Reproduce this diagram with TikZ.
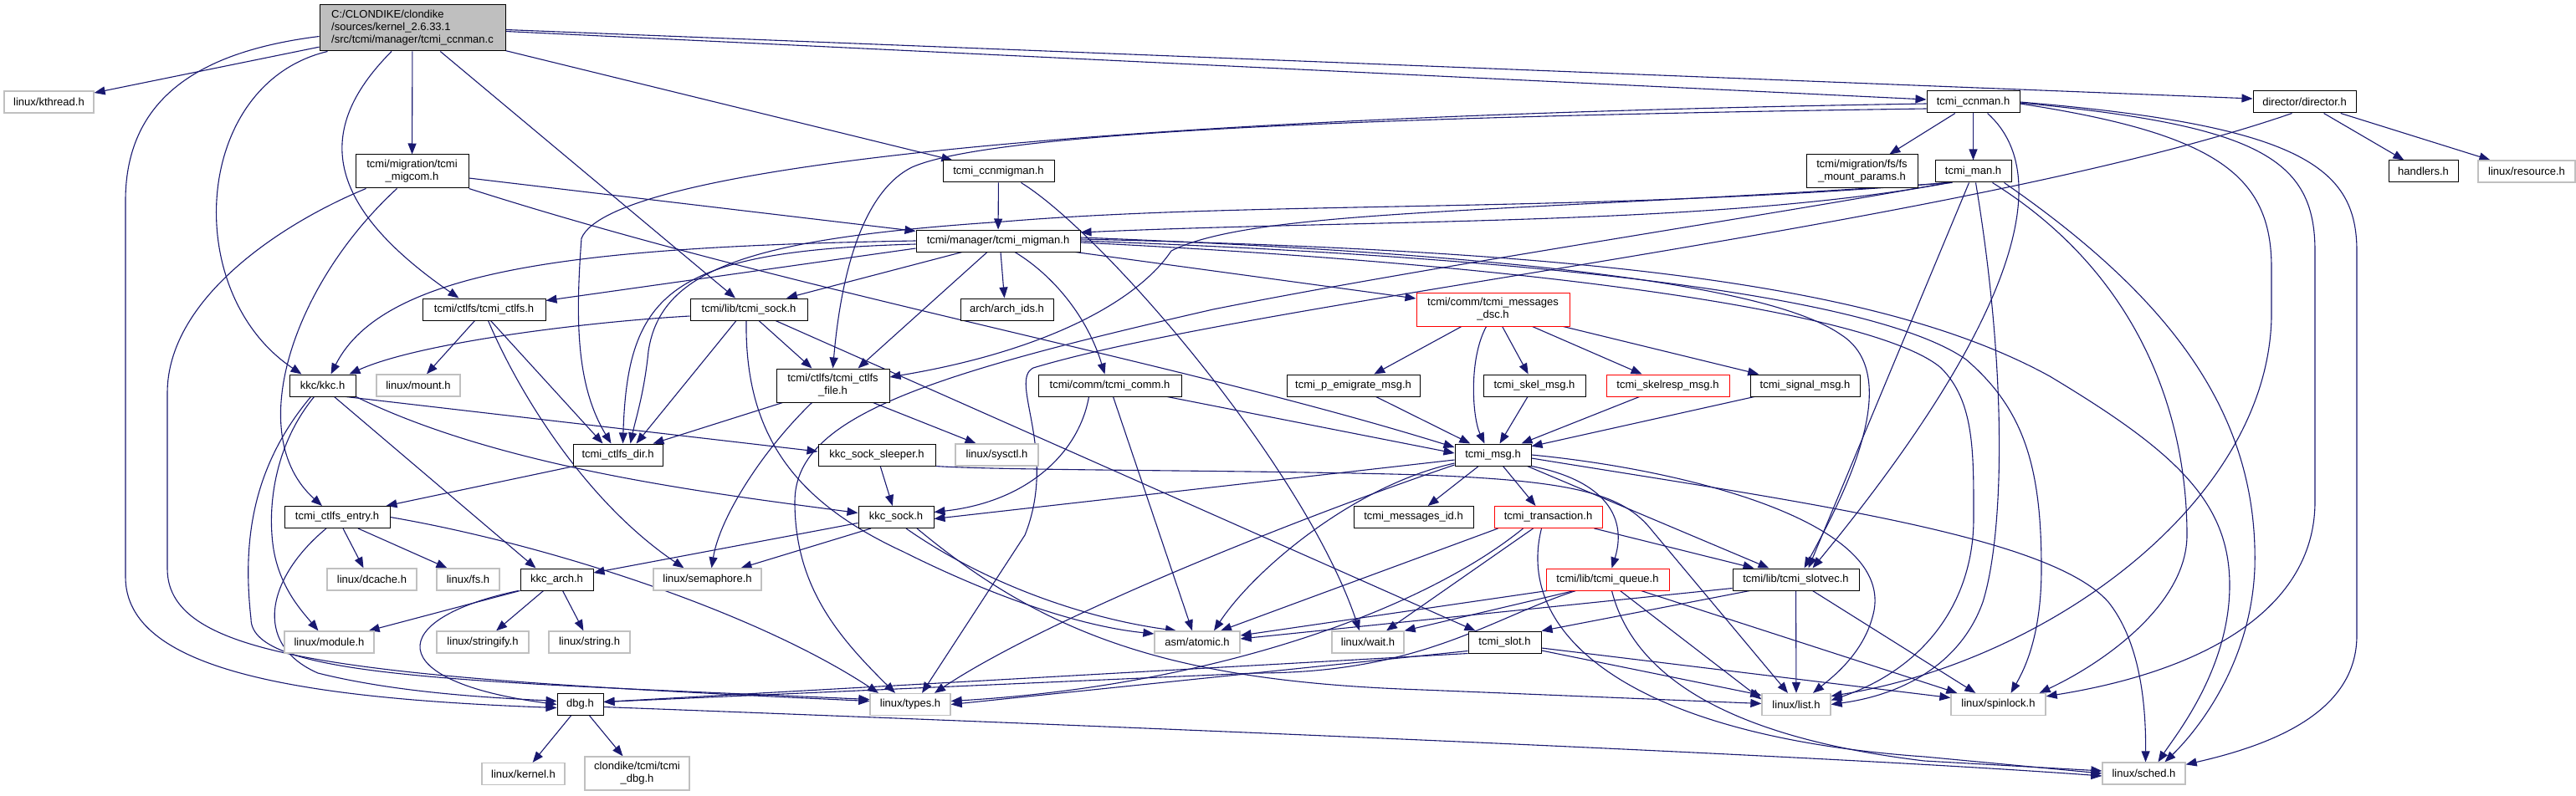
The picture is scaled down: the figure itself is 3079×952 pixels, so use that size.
\documentclass[tikz,border=0pt]{standalone}
\usepackage{fontspec}
\setmainfont{Liberation Sans}
\usetikzlibrary{arrows.meta}
\definecolor{edgeblue}{HTML}{191970}
\definecolor{lightgr}{HTML}{C0C0C0}
\definecolor{mainfill}{HTML}{BFBFBF}
\pgfdeclarelayer{edgelayer}
\pgfsetlayers{edgelayer,main}
\tikzset{
  nodebase/.style={draw=black, line width=1pt, fill=white, inner sep=0pt, minimum height=26pt, font=\fontsize{13}{15}\selectfont, text=black, align=center},
  nb/.style={nodebase},
  ng/.style={nodebase, draw=lightgr, line width=1.3pt},
  nr/.style={nodebase, draw=red},
  edge/.style={draw=edgeblue, line width=1.1pt, -{Triangle[length=13pt,width=10pt]}},
}
\begin{document}
\begin{tikzpicture}[x=1pt,y=-1pt]
\useasboundingbox (0,0) rectangle (3079,952);
% nodes
\node[nb, fill=mainfill, align=left, minimum width=222pt, minimum height=55pt] (main) at (493,33.5) {C:/CLONDIKE/clondike\\/sources/kernel\_2.6.33.1\\/src/tcmi/manager/tcmi\_ccnman.c};
\node[ng, minimum width=107pt] (kthread) at (58.5,122) {linux/kthread.h};
\node[nb, minimum width=135pt, minimum height=40pt] (migcom) at (492.5,205) {tcmi/migration/tcmi\\\_migcom.h};
\node[nb, minimum width=133pt] (ccnmigman) at (1193.5,205) {tcmi\_ccnmigman.h};
\node[nb, minimum width=196pt] (migman) at (1193,288) {tcmi/manager/tcmi\_migman.h};
\node[nb, minimum width=133pt, minimum height=40pt] (fsmp) at (2225.5,205) {tcmi/migration/fs/fs\\\_mount\_params.h};
\node[nb, minimum width=111pt] (ccnmanh) at (2358.5,122) {tcmi\_ccnman.h};
\node[nb, minimum width=123pt] (director) at (2754.5,122) {director/director.h};
\node[nb, minimum width=91pt] (tcmiman) at (2358.5,205) {tcmi\_man.h};
\node[nb, minimum width=83pt] (handlers) at (2896.5,205) {handlers.h};
\node[ng, minimum width=116pt] (resource) at (3020,205) {linux/resource.h};
\node[nb, minimum width=147pt] (ctlfs) at (578.5,370) {tcmi/ctlfs/tcmi\_ctlfs.h};
\node[nb, minimum width=140pt] (sock) at (895,370) {tcmi/lib/tcmi\_sock.h};
\node[nb, minimum width=111pt] (archids) at (1203.5,370) {arch/arch\_ids.h};
\node[nr, minimum width=183pt, minimum height=40pt] (msgdsc) at (1784.5,370) {tcmi/comm/tcmi\_messages\\\_dsc.h};
\node[nb, minimum width=79pt] (kkc) at (385.5,461) {kkc/kkc.h};
\node[ng, minimum width=100pt] (mount) at (500,461) {linux/mount.h};
\node[nb, minimum width=135pt, minimum height=40pt] (ctlfsfile) at (995.5,461) {tcmi/ctlfs/tcmi\_ctlfs\\\_file.h};
\node[nb, minimum width=171pt] (comm) at (1326.5,461) {tcmi/comm/tcmi\_comm.h};
\node[nb, minimum width=159pt] (pemig) at (1617.5,461) {tcmi\_p\_emigrate\_msg.h};
\node[nb, minimum width=122pt] (skel) at (1834,461) {tcmi\_skel\_msg.h};
\node[nr, minimum width=147pt] (skelresp) at (1993.5,461) {tcmi\_skelresp\_msg.h};
\node[nb, minimum width=131pt] (signal) at (2157.5,461) {tcmi\_signal\_msg.h};
\node[nb, minimum width=107pt] (dir) at (738.5,544) {tcmi\_ctlfs\_dir.h};
\node[nb, minimum width=140pt] (sleeper) at (1048,544) {kkc\_sock\_sleeper.h};
\node[ng, minimum width=99pt] (sysctl) at (1191.5,544) {linux/sysctl.h};
\node[nb, minimum width=91pt] (msg) at (1784.5,544) {tcmi\_msg.h};
\node[nb, minimum width=126pt] (entry) at (403,618.5) {tcmi\_ctlfs\_entry.h};
\node[nb, minimum width=90pt] (kkcsock) at (1071,618.5) {kkc\_sock.h};
\node[nb, minimum width=143pt] (msgid) at (1689.5,618.5) {tcmi\_messages\_id.h};
\node[nr, minimum width=129pt] (trans) at (1850.5,618.5) {tcmi\_transaction.h};
\node[ng, minimum width=107pt] (dcache) at (444.5,693) {linux/dcache.h};
\node[ng, minimum width=75pt] (fs) at (559.5,693) {linux/fs.h};
\node[nb, minimum width=87pt] (kkcarch) at (665.5,693) {kkc\_arch.h};
\node[ng, minimum width=129pt] (semaphore) at (845.5,693) {linux/semaphore.h};
\node[nr, minimum width=147pt] (queue) at (1921.5,693) {tcmi/lib/tcmi\_queue.h};
\node[nb, minimum width=151pt] (slotvec) at (2146.5,693) {tcmi/lib/tcmi\_slotvec.h};
\node[ng, minimum width=107pt] (module) at (393.5,768) {linux/module.h};
\node[ng, minimum width=110pt] (stringify) at (577,768) {linux/stringify.h};
\node[ng, minimum width=97pt] (string) at (704.5,768) {linux/string.h};
\node[ng, minimum width=102pt] (atomic) at (1431,768) {asm/atomic.h};
\node[ng, minimum width=86pt] (wait) at (1635,768) {linux/wait.h};
\node[nb, minimum width=87pt] (slot) at (1798.5,768) {tcmi\_slot.h};
\node[nb, minimum width=55pt] (dbg) at (693.5,842.5) {dbg.h};
\node[ng, minimum width=96pt] (types) at (1088,842.5) {linux/types.h};
\node[ng, minimum width=82pt] (list) at (2147,842.5) {linux/list.h};
\node[ng, minimum width=113pt] (spinlock) at (2388.5,842.5) {linux/spinlock.h};
\node[ng, minimum width=99pt] (kernel) at (625.5,925.5) {linux/kernel.h};
\node[ng, minimum width=125pt, minimum height=40pt] (tcmidbg) at (761.5,925) {clondike/tcmi/tcmi\\\_dbg.h};
\node[ng, minimum width=99pt] (sched) at (2562.5,925) {linux/sched.h};

\begin{pgfonlayer}{edgelayer}
% main
\draw[edge] (main) -- (kthread);
\draw[edge] (main) -- (migcom);
\draw[edge] (main) -- (ccnmigman);
\draw[edge] ([yshift=-4pt]main.east) -- ([yshift=3pt]ccnmanh.west);
\draw[edge] ([yshift=-2pt]main.east) -- ([yshift=4pt]director.west);
\draw[edge] ([xshift=10pt]main.south west) .. controls (230,100) and (215,350) .. ([xshift=-25pt]kkc.north);
\draw[edge] ([xshift=-25pt]main.south) .. controls (380,150) and (380,240) .. ([xshift=-30pt]ctlfs.north);
\draw[edge] (main) -- (sock);
\draw[edge] ([yshift=-10pt]main.west) .. controls (250,60) and (150,110) .. (150,240) -- (150,690) .. controls (150,800) and (350,835) .. ([yshift=-4pt]dbg.west);
% migcom
\draw[edge] (migcom) -- (migman);
\draw[edge] ([xshift=-18pt]migcom.south) .. controls (350,340) and (290,520) .. ([xshift=-18pt]entry.north);
\draw[edge] (migcom.south east) .. controls (950,350) and (1400,430) .. ([yshift=9pt]msg.west);
\draw[edge] ([xshift=-55pt]migcom.south) .. controls (330,270) and (200,360) .. (200,470) -- (200,680) .. controls (200,790) and (420,810) .. ([yshift=4pt]types.west);
% ccnmigman
\draw[edge] (ccnmigman) -- (migman);
\draw[edge] ([xshift=27pt]ccnmigman.south) .. controls (1320,280) and (1560,560) .. ([xshift=-10pt]wait.north);
% tcmi_ccnman.h
\draw[edge] (ccnmanh) -- (fsmp);
\draw[edge] (ccnmanh) -- (tcmiman);
\draw[edge] ([yshift=-2pt]ccnmanh.west) .. controls (1300,140) and (730,200) .. (695,285) .. controls (688,380) and (688,460) .. ([xshift=-8pt]dir.north);
\draw[edge] ([yshift=-8pt]ccnmanh.west) .. controls (1600,140) and (1180,160) .. (1090,200) .. controls (1030,230) and (1005,330) .. (ctlfsfile.north);
\draw[edge] ([xshift=17pt]ccnmanh.south) .. controls (2470,220) and (2380,420) .. ([xshift=20pt]slotvec.north);
\draw[edge] ([yshift=-2pt]ccnmanh.east) .. controls (2650,160) and (2715,210) .. (2715,320) -- (2715,380) .. controls (2710,600) and (2450,790) .. ([yshift=10pt]list.east);
\draw[edge] ([yshift=-1pt]ccnmanh.east) .. controls (2700,150) and (2767,190) .. (2767,300) -- (2767,600) .. controls (2767,720) and (2650,800) .. ([yshift=-4pt]spinlock.north east);
\draw[edge] (ccnmanh.east) .. controls (2750,150) and (2817,200) .. (2817,300) -- (2817,760) .. controls (2817,850) and (2720,890) .. ([yshift=-3pt]sched.north east);
% director
\draw[edge] (director) -- (handlers);
\draw[edge] (director) -- (resource);
\draw[edge] ([xshift=-15pt]director.south) .. controls (2350,270) and (1500,360) .. (1235,440) .. controls (1205,455) and (1265,540) .. (1225,640) -- ([xshift=14pt]types.north);
% tcmi_man.h
\draw[edge] ([xshift=-28pt]tcmiman.south) .. controls (2050,270) and (1650,262) .. ([yshift=10pt]migman.east);
\draw[edge] ([xshift=-25pt]tcmiman.south) .. controls (1800,255) and (1500,250) .. (1400,300) .. controls (1360,360) and (1250,420) .. ([yshift=10pt]ctlfsfile.east);
\draw[edge] ([xshift=-30pt]tcmiman.south) .. controls (2100,260) and (1700,320) .. (1450,370) .. controls (1100,450) and (950,500) .. (950,600) .. controls (950,700) and (1000,760) .. ([xshift=-18pt]types.north);
\draw[edge] ([xshift=-5pt]tcmiman.south) -- ([xshift=15pt]slotvec.north);
\draw[edge] ([xshift=3pt]tcmiman.south) .. controls (2400,450) and (2395,640) .. (2370,720) .. controls (2345,790) and (2280,830) .. (list.east);
\draw[edge] ([xshift=23pt]tcmiman.south) .. controls (2560,330) and (2614,500) .. (2614,640) .. controls (2614,720) and (2520,790) .. ([xshift=-8pt]spinlock.north east);
\draw[edge] ([xshift=37pt]tcmiman.south) .. controls (2600,360) and (2700,500) .. (2695,680) .. controls (2690,800) and (2620,880) .. ([xshift=25pt]sched.north);
\draw[edge] ([xshift=-32pt]tcmiman.south) .. controls (1900,255) and (1500,240) .. (1200,265) .. controls (900,285) and (790,320) .. (775,420) .. controls (770,470) and (760,500) .. ([xshift=15pt]dir.north);
% tcmi_migman.h
\draw[edge] ([yshift=-9pt]migman.west) -- ([yshift=-3pt]ctlfs.north east);
\draw[edge] (migman.west) .. controls (700,295) and (460,320) .. ([xshift=10pt]kkc.north);
\draw[edge] ([yshift=-4pt]migman.west) .. controls (800,300) and (750,350) .. ([xshift=6pt]dir.north);
\draw[edge] ([xshift=-43pt]migman.south) -- ([xshift=45pt]sock.north);
\draw[edge] ([xshift=-13pt]migman.south) -- ([xshift=30pt]ctlfsfile.north);
\draw[edge] ([xshift=3pt]migman.south) -- ([xshift=-3pt]archids.north);
\draw[edge] ([xshift=20pt]migman.south) .. controls (1260,330) and (1300,380) .. ([xshift=-6pt]comm.north);
\draw[edge] ([xshift=-6pt]migman.south east) -- ([yshift=13pt]msgdsc.west);
\draw[edge] ([yshift=4pt]migman.east) .. controls (1700,300) and (2100,330) .. (2200,400) .. controls (2280,450) and (2200,600) .. ([xshift=10pt]slotvec.north);
\draw[edge] ([yshift=-2pt]migman.east) .. controls (1900,320) and (2250,380) .. (2320,440) .. controls (2360,480) and (2359,540) .. (2359,620) .. controls (2359,720) and (2300,800) .. ([yshift=5pt]list.east);
\draw[edge] (migman.east) .. controls (1900,310) and (2250,360) .. (2350,430) .. controls (2420,490) and (2440,560) .. (2440,680) .. controls (2440,760) and (2420,800) .. ([xshift=15pt]spinlock.north);
\draw[edge] ([yshift=2pt]migman.east) .. controls (1900,300) and (2250,340) .. (2450,450) .. controls (2600,540) and (2665,600) .. (2665,700) .. controls (2665,800) and (2600,880) .. ([xshift=17pt]sched.north);
% messages_dsc
\draw[edge] (msgdsc) -- (pemig);
\draw[edge] ([xshift=-8pt]msgdsc.south) .. controls (1755,430) and (1760,500) .. ([xshift=-10pt]msg.north);
\draw[edge] (msgdsc) -- (skel);
\draw[edge] (msgdsc) -- (skelresp);
\draw[edge] (msgdsc) -- (signal);
\draw[edge] (pemig) -- (msg);
\draw[edge] (skel) -- (msg);
\draw[edge] (skelresp) -- (msg);
\draw[edge] (signal) -- (msg);
% comm
\draw[edge] ([xshift=-25pt]comm.south) .. controls (1290,540) and (1230,600) .. ([yshift=6pt]kkcsock.east);
\draw[edge] (comm) -- ([yshift=2pt]msg.west);
\draw[edge] ([xshift=4pt]comm.south) -- ([xshift=-6pt]atomic.north);
% sock
\draw[edge] ([yshift=-8pt]sock.west) .. controls (700,385) and (500,410) .. ([xshift=-8pt]kkc.north east);
\draw[edge] ([xshift=-15pt]sock.south) -- ([xshift=22pt]dir.north);
\draw[edge] ([xshift=12pt]sock.south) -- ([xshift=-25pt]ctlfsfile.north);
\draw[edge] ([xshift=-3pt]sock.south) .. controls (890,520) and (950,600) .. (1080,660) .. controls (1200,720) and (1300,750) .. ([yshift=10pt]atomic.west);
\draw[edge] ([xshift=32pt]sock.south) -- ([xshift=-35pt]slot.north);
% ctlfs
\draw[edge] ([xshift=-11pt]ctlfs.south) -- ([xshift=10pt]mount.north);
\draw[edge] ([xshift=8pt]ctlfs.south) -- ([xshift=-18pt]dir.north);
\draw[edge] ([xshift=5pt]ctlfs.south) .. controls (620,470) and (700,600) .. ([xshift=-28pt]semaphore.north);
% ctlfs_file
\draw[edge] ([xshift=-60pt]ctlfsfile.south) -- ([xshift=-12pt]dir.north east);
\draw[edge] ([xshift=-20pt]ctlfsfile.south east) -- ([xshift=-25pt]sysctl.north);
\draw[edge] ([xshift=-25pt]ctlfsfile.south) .. controls (910,540) and (860,620) .. ([xshift=5pt]semaphore.north);
% kkc
\draw[edge] ([xshift=-12pt]kkc.south east) -- ([yshift=4pt]sleeper.west);
\draw[edge] (kkc.south east) .. controls (600,560) and (850,590) .. ([yshift=5pt]kkcsock.west);
\draw[edge] ([xshift=14pt]kkc.south) -- ([xshift=-25pt]kkcarch.north);
\draw[edge] ([xshift=-10pt]kkc.south) .. controls (330,530) and (320,600) .. (326,650) .. controls (332,700) and (360,730) .. ([xshift=-13pt]module.north);
\draw[edge] ([xshift=-14pt]kkc.south) .. controls (300,560) and (290,650) .. (300,740) .. controls (300,810) and (550,815) .. ([yshift=6pt]types.west);
% dir
\draw[edge] ([xshift=2pt]dir.south west) -- ([xshift=-5pt]entry.north east);
% sleeper
\draw[edge] (sleeper) -- (kkcsock);
\draw[edge] (sleeper.south east) .. controls (1200,563) and (1500,562) .. (1700,568) .. controls (1880,575) and (1940,590) .. (1975,635) -- ([xshift=-10pt]list.north);
% entry
\draw[edge] ([xshift=7pt]entry.south) -- ([xshift=-10pt]dcache.north);
\draw[edge] ([xshift=25pt]entry.south) -- ([xshift=-25pt]fs.north);
\draw[edge] ([xshift=-13pt]entry.south) .. controls (320,690) and (300,770) .. (380,805) .. controls (480,830) and (600,835) .. ([yshift=4pt]dbg.west);
\draw[edge] (entry.east) .. controls (650,650) and (900,730) .. ([xshift=-38pt]types.north);
% kkc_sock
\draw[edge] ([yshift=-7pt]kkcsock.west) -- ([yshift=8pt]kkcarch.east);
\draw[edge] ([xshift=-30pt]kkcsock.south) -- ([xshift=40pt]semaphore.north);
\draw[edge] ([xshift=12pt]kkcsock.south) .. controls (1180,700) and (1300,740) .. ([xshift=-25pt]atomic.north);
\draw[edge] ([xshift=25pt]kkcsock.south) .. controls (1250,760) and (1400,815) .. (1700,825) -- ([yshift=1pt]list.west);
% tcmi_msg
\draw[edge] ([yshift=-6pt]msg.west) -- ([yshift=-2pt]kkcsock.east);
\draw[edge] (msg) -- (msgid);
\draw[edge] ([xshift=12pt]msg.south) -- ([xshift=-15pt]trans.north);
\draw[edge] (msg.south east) .. controls (1920,575) and (1945,620) .. ([xshift=5pt]queue.north);
\draw[edge] ([xshift=-5pt]msg.south east) -- ([xshift=-32pt]slotvec.north);
\draw[edge] ([yshift=-10pt]msg.west) .. controls (1620,580) and (1500,680) .. ([xshift=20pt]atomic.north);
\draw[edge] ([yshift=-12pt]msg.west) .. controls (1550,620) and (1250,740) .. ([xshift=29pt]types.north);
\draw[edge] (msg.east) .. controls (2000,560) and (2260,620) .. (2240,730) .. controls (2230,780) and (2190,810) .. ([xshift=20pt]list.north);
\draw[edge] ([yshift=-4pt]msg.east) .. controls (2150,600) and (2450,640) .. (2520,720) .. controls (2560,770) and (2565,850) .. ([xshift=2pt]sched.north);
% transaction
\draw[edge] ([xshift=-60pt]trans.south) -- ([xshift=28pt]atomic.north);
\draw[edge] ([xshift=-30pt]trans.south) .. controls (1700,730) and (1450,820) .. ([yshift=4pt]types.east);
\draw[edge] ([xshift=-18pt]trans.south) -- ([xshift=22pt]wait.north);
\draw[edge] ([xshift=-8pt]trans.south) .. controls (1810,760) and (1950,880) .. (2300,905) -- (sched.west);
\draw[edge] ([xshift=-10pt]trans.south east) -- ([xshift=-50pt]slotvec.north);
% queue
\draw[edge] ([xshift=2pt]queue.south west) -- ([yshift=8pt]atomic.east);
\draw[edge] ([xshift=-40pt]queue.south) -- (wait.north east);
\draw[edge] ([xshift=-38pt]queue.south) .. controls (1780,740) and (1700,805) .. (1500,805) -- ([yshift=3pt]dbg.east);
\draw[edge] ([xshift=15pt]queue.south) -- ([yshift=6pt]list.west);
\draw[edge] ([xshift=5pt]queue.south) .. controls (1950,800) and (2050,880) .. (2300,910) -- ([yshift=3pt]sched.west);
\draw[edge] ([xshift=40pt]queue.south) -- ([xshift=8pt]spinlock.north west);
% slotvec
\draw[edge] ([yshift=3pt]slotvec.south west) -- ([yshift=4pt]atomic.east);
\draw[edge] ([xshift=-55pt]slotvec.south) -- (slot.north east);
\draw[edge] (slotvec) -- (list);
\draw[edge] ([xshift=20pt]slotvec.south) -- ([xshift=30pt]spinlock.north west);
% slot
\draw[edge] (slot.south west) -- ([yshift=3pt]dbg.east);
\draw[edge] ([yshift=3pt]slot.south west) -- (types.east);
\draw[edge] ([yshift=-7pt]slot.east) -- ([yshift=8pt]spinlock.west);
\draw[edge] ([yshift=-10pt]slot.east) -- ([yshift=11pt]list.west);
% dbg
\draw[edge] (dbg) -- (kernel);
\draw[edge] (dbg) -- (tcmidbg);
\draw[edge] ([yshift=-3pt]dbg.east) .. controls (1500,875) and (2200,905) .. ([yshift=-3pt]sched.west);
% kkc_arch
\draw[edge] (kkcarch.south west) -- ([xshift=-7pt]module.north east);
\draw[edge] ([xshift=-2pt]kkcarch.south west) .. controls (460,740) and (455,815) .. (dbg.west);
\draw[edge] (kkcarch) -- (stringify);
\draw[edge] (kkcarch) -- (string);
\end{pgfonlayer}
\end{tikzpicture}
\end{document}
